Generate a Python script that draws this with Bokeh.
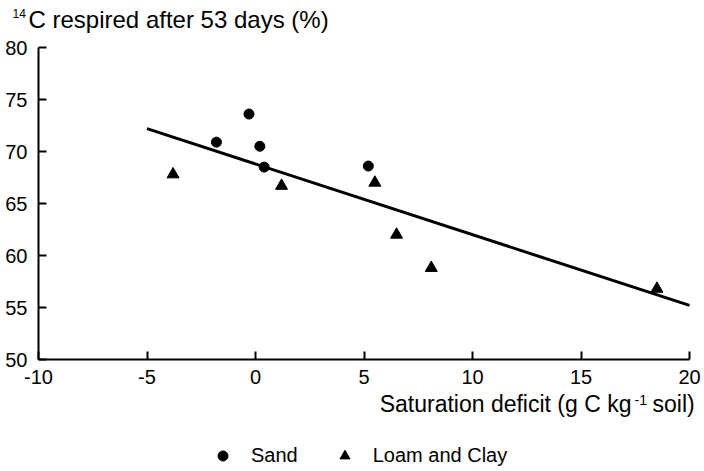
from bokeh.plotting import figure
from bokeh.models import Range1d, Label, Legend, LegendItem, FixedTicker
from bokeh.embed import file_html
from bokeh.resources import INLINE

# ---- data ----
sand_x = [-1.8, -0.3, 0.2, 0.4, 5.2]
sand_y = [70.9, 73.6, 70.5, 68.5, 68.6]
loam_x = [-3.8, 1.2, 5.5, 6.5, 8.1, 18.5]
loam_y = [67.8, 66.7, 67.0, 62.0, 58.8, 56.8]
fit_x = [-5, 20]
fit_y = [72.2, 55.2]
x_ticks = [-10, -5, 0, 5, 10, 15, 20]
x_tick_labels = ["-10", "-5", "0", "5", "10", "15", "20"]
y_ticks = [50, 55, 60, 65, 70, 75, 80]
y_tick_labels = ["50", "55", "60", "65", "70", "75", "80"]

FONT = "Liberation Sans"
W, H = 704, 471
# pixel position of the axes box inside the canvas
L, Rpx, T, Bpx = 38, 689, 47, 359
XMIN, XMAX, YMIN, YMAX = -10, 20, 50, 80
sx = (XMAX - XMIN) / (Rpx - L)
sy = (YMAX - YMIN) / (Bpx - T)


def dx(px):
    return XMIN + (px - L) * sx


def dy(py):
    return YMIN + (Bpx - py) * sy


p = figure(width=W, height=H, x_range=Range1d(dx(0), dx(W)), y_range=Range1d(dy(H), dy(0)),
           output_backend="svg", toolbar_location=None, title=None,
           min_border_left=0, min_border_right=0, min_border_top=0, min_border_bottom=0)
p.outline_line_color = None
p.xgrid.visible = False
p.ygrid.visible = False
p.background_fill_color = "white"
p.border_fill_color = "white"

p.xaxis.fixed_location = YMIN
p.yaxis.fixed_location = XMIN
p.xaxis.bounds = (XMIN, XMAX)
p.yaxis.bounds = (YMIN, YMAX)

for ax, ticks, labels in ((p.xaxis[0], x_ticks, x_tick_labels), (p.yaxis[0], y_ticks, y_tick_labels)):
    ax.ticker = FixedTicker(ticks=ticks)
    ax.major_label_overrides = {t: s for t, s in zip(ticks, labels)}
    ax.axis_line_width = 2
    ax.axis_line_color = "black"
    ax.major_tick_line_width = 2
    ax.major_tick_line_color = "black"
    ax.major_tick_in = 8
    ax.major_tick_out = 0
    ax.minor_tick_line_color = None
    ax.major_label_text_font = FONT
    ax.major_label_text_font_size = "20px"
    ax.major_label_text_color = "black"
p.xaxis.major_label_standoff = 10
p.yaxis.major_label_standoff = 11

p.line(fit_x, fit_y, line_color="black", line_width=3)
r_sand = p.scatter(sand_x, sand_y, marker="circle", size=10, fill_color="black", line_color="black")
r_loam = p.scatter(loam_x, loam_y, marker="triangle", size=12, fill_color="black", line_color="black")


def lab(text, px, py, size, align="left"):
    p.add_layout(Label(x=dx(px), y=dy(py), text=text, text_font=FONT, text_font_size=size,
                       text_align=align, text_baseline="middle", text_color="black"))


lab("14", 12, 13, "12px")
lab("C respired after 53 days (%)", 28, 19, "24px")
lab("Saturation deficit (g C kg", 631, 403, "23px", align="right")
lab("-1", 634, 399, "14px")
lab("soil)", 652, 403, "23px")

legend = Legend(items=[LegendItem(label="Sand", renderers=[r_sand]),
                       LegendItem(label="Loam and Clay", renderers=[r_loam])],
                location=(210, 3), orientation="horizontal",
                glyph_width=25, glyph_height=25, label_height=25, label_standoff=16,
                spacing=34, padding=0, margin=0,
                border_line_color=None, background_fill_alpha=0,
                label_text_font=FONT, label_text_font_size="20px", label_text_color="black")
p.add_layout(legend, "center")

open("out.html", "w").write(file_html(p, INLINE))
